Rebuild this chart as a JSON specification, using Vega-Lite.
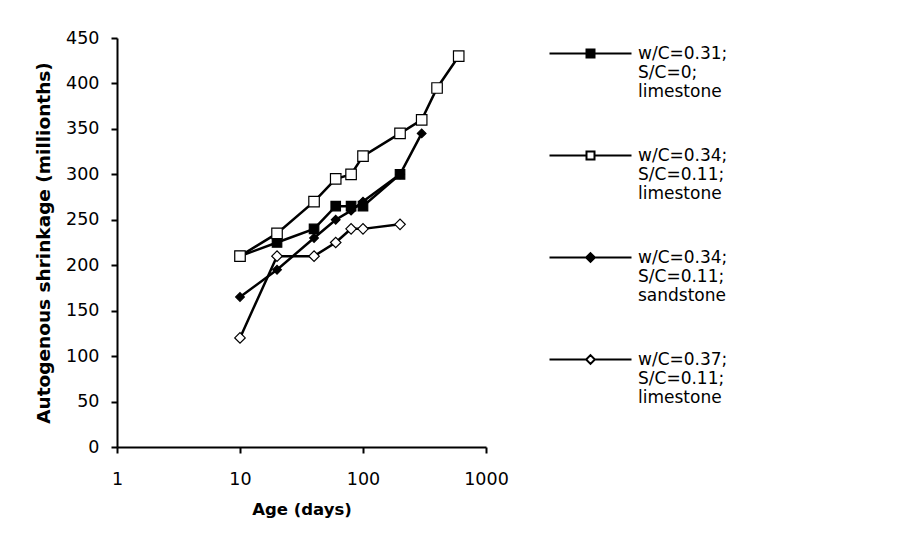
{
  "$schema": "https://vega.github.io/schema/vega-lite/v6.json",
  "width": 369,
  "height": 409,
  "autosize": {"type": "none"},
  "padding": {"left": 117, "top": 38, "right": 420, "bottom": 110},
  "background": "white",
  "config": {"view": {"stroke": null}, "font": "DejaVu Sans"},
  "data": {
    "values": [
      {"series": "w/C=0.31;|S/C=0;|limestone", "age": 10, "shrinkage": 210},
      {"series": "w/C=0.31;|S/C=0;|limestone", "age": 20, "shrinkage": 225},
      {"series": "w/C=0.31;|S/C=0;|limestone", "age": 40, "shrinkage": 240},
      {"series": "w/C=0.31;|S/C=0;|limestone", "age": 60, "shrinkage": 265},
      {"series": "w/C=0.31;|S/C=0;|limestone", "age": 80, "shrinkage": 265},
      {"series": "w/C=0.31;|S/C=0;|limestone", "age": 100, "shrinkage": 265},
      {"series": "w/C=0.31;|S/C=0;|limestone", "age": 200, "shrinkage": 300},
      {"series": "w/C=0.34;|S/C=0.11;|limestone", "age": 10, "shrinkage": 210},
      {"series": "w/C=0.34;|S/C=0.11;|limestone", "age": 20, "shrinkage": 235},
      {"series": "w/C=0.34;|S/C=0.11;|limestone", "age": 40, "shrinkage": 270},
      {"series": "w/C=0.34;|S/C=0.11;|limestone", "age": 60, "shrinkage": 295},
      {"series": "w/C=0.34;|S/C=0.11;|limestone", "age": 80, "shrinkage": 300},
      {"series": "w/C=0.34;|S/C=0.11;|limestone", "age": 100, "shrinkage": 320},
      {"series": "w/C=0.34;|S/C=0.11;|limestone", "age": 200, "shrinkage": 345},
      {"series": "w/C=0.34;|S/C=0.11;|limestone", "age": 300, "shrinkage": 360},
      {"series": "w/C=0.34;|S/C=0.11;|limestone", "age": 400, "shrinkage": 395},
      {"series": "w/C=0.34;|S/C=0.11;|limestone", "age": 600, "shrinkage": 430},
      {"series": "w/C=0.34;|S/C=0.11;|sandstone", "age": 10, "shrinkage": 165},
      {"series": "w/C=0.34;|S/C=0.11;|sandstone", "age": 20, "shrinkage": 195},
      {"series": "w/C=0.34;|S/C=0.11;|sandstone", "age": 40, "shrinkage": 230},
      {"series": "w/C=0.34;|S/C=0.11;|sandstone", "age": 60, "shrinkage": 250},
      {"series": "w/C=0.34;|S/C=0.11;|sandstone", "age": 80, "shrinkage": 260},
      {"series": "w/C=0.34;|S/C=0.11;|sandstone", "age": 100, "shrinkage": 270},
      {"series": "w/C=0.34;|S/C=0.11;|sandstone", "age": 200, "shrinkage": 300},
      {"series": "w/C=0.34;|S/C=0.11;|sandstone", "age": 300, "shrinkage": 345},
      {"series": "w/C=0.37;|S/C=0.11;|limestone", "age": 10, "shrinkage": 120},
      {"series": "w/C=0.37;|S/C=0.11;|limestone", "age": 20, "shrinkage": 210},
      {"series": "w/C=0.37;|S/C=0.11;|limestone", "age": 40, "shrinkage": 210},
      {"series": "w/C=0.37;|S/C=0.11;|limestone", "age": 60, "shrinkage": 225},
      {"series": "w/C=0.37;|S/C=0.11;|limestone", "age": 80, "shrinkage": 240},
      {"series": "w/C=0.37;|S/C=0.11;|limestone", "age": 100, "shrinkage": 240},
      {"series": "w/C=0.37;|S/C=0.11;|limestone", "age": 200, "shrinkage": 245}
    ]
  },
  "encoding": {
    "x": {
      "field": "age",
      "type": "quantitative",
      "scale": {"type": "log", "domain": [1, 1000]},
      "axis": {
        "values": [1, 10, 100, 1000],
        "format": "d",
        "title": "Age (days)",
        "grid": false,
        "domainColor": "black",
        "domainWidth": 2,
        "tickColor": "black",
        "tickWidth": 2,
        "tickSize": 6,
        "labelFont": "DejaVu Sans",
        "labelFontSize": 17.5,
        "labelColor": "black",
        "labelPadding": 17,
        "labelFlush": false,
        "titleFont": "DejaVu Sans",
        "titleFontWeight": "bold",
        "titleFontSize": 16.5,
        "titleColor": "black",
        "titlePadding": 14
      }
    },
    "y": {
      "field": "shrinkage",
      "type": "quantitative",
      "scale": {"domain": [0, 450]},
      "axis": {
        "values": [0, 50, 100, 150, 200, 250, 300, 350, 400, 450],
        "title": "Autogenous shrinkage (millionths)",
        "grid": false,
        "domainColor": "black",
        "domainWidth": 2,
        "tickColor": "black",
        "tickWidth": 2,
        "tickSize": 6,
        "labelFont": "DejaVu Sans",
        "labelFontSize": 17.5,
        "labelColor": "black",
        "labelPadding": 12,
        "labelFlush": false,
        "titleFont": "DejaVu Sans",
        "titleFontWeight": "bold",
        "titleFontSize": 18.5,
        "titleColor": "black",
        "titlePadding": 12
      }
    }
  },
  "layer": [
    {
      "mark": {"type": "line", "color": "black", "strokeWidth": 2.5},
      "encoding": {"detail": {"field": "series", "type": "nominal"}}
    },
    {
      "mark": {"type": "point", "filled": true, "stroke": "black", "strokeWidth": 1.2, "opacity": 1},
      "encoding": {
        "shape": {
          "field": "series",
          "type": "nominal",
          "scale": {
            "domain": ["w/C=0.31;|S/C=0;|limestone", "w/C=0.34;|S/C=0.11;|limestone", "w/C=0.34;|S/C=0.11;|sandstone", "w/C=0.37;|S/C=0.11;|limestone"],
            "range": ["square", "square", "diamond", "diamond"]
          },
          "legend": null
        },
        "fill": {
          "field": "series",
          "type": "nominal",
          "scale": {
            "domain": ["w/C=0.31;|S/C=0;|limestone", "w/C=0.34;|S/C=0.11;|limestone", "w/C=0.34;|S/C=0.11;|sandstone", "w/C=0.37;|S/C=0.11;|limestone"],
            "range": ["black", "white", "black", "white"]
          },
          "legend": null
        },
        "size": {
          "field": "series",
          "type": "nominal",
          "scale": {
            "type": "ordinal",
            "domain": ["w/C=0.31;|S/C=0;|limestone", "w/C=0.34;|S/C=0.11;|limestone", "w/C=0.34;|S/C=0.11;|sandstone", "w/C=0.37;|S/C=0.11;|limestone"],
            "range": [90, 110, 75, 110]
          },
          "legend": null
        }
      }
    },
    {
      "transform": [{"filter": "datum.age > 100000"}],
      "mark": {"type": "point", "filled": true, "strokeWidth": 2, "opacity": 1, "size": 64},
      "encoding": {
        "shape": {
          "field": "series",
          "type": "nominal",
          "scale": {
            "domain": ["w/C=0.31;|S/C=0;|limestone", "w/C=0.34;|S/C=0.11;|limestone", "w/C=0.34;|S/C=0.11;|sandstone", "w/C=0.37;|S/C=0.11;|limestone"],
            "range": [
              "M-10.25,0H10.25M-1,-1H1V1H-1Z",
              "M-10.25,0H-1M1,0H10.25M-1,-1H1V1H-1Z",
              "M-10.25,0H10.25M0,-1.1L1.1,0L0,1.1L-1.1,0Z",
              "M-10.25,0H-1.1M1.1,0H10.25M0,-1.1L1.1,0L0,1.1L-1.1,0Z"
            ]
          },
          "legend": {
            "orient": "right",
            "offset": 89,
            "padding": 7,
            "title": null,
            "labelExpr": "split(datum.label, '|')",
            "labelFont": "DejaVu Sans",
            "labelFontSize": 17,
            "labelColor": "black",
            "labelOffset": 39,
            "labelLimit": 0,
            "rowPadding": 46,
            "symbolSize": 64,
            "symbolStrokeWidth": 2
          }
        },
        "fill": {
          "field": "series",
          "type": "nominal",
          "scale": {
            "domain": ["w/C=0.31;|S/C=0;|limestone", "w/C=0.34;|S/C=0.11;|limestone", "w/C=0.34;|S/C=0.11;|sandstone", "w/C=0.37;|S/C=0.11;|limestone"],
            "range": ["black", "white", "black", "white"]
          },
          "legend": {
            "orient": "right",
            "offset": 89,
            "padding": 7,
            "title": null,
            "labelExpr": "split(datum.label, '|')",
            "labelFont": "DejaVu Sans",
            "labelFontSize": 17,
            "labelColor": "black",
            "labelOffset": 39,
            "labelLimit": 0,
            "rowPadding": 46,
            "symbolSize": 64,
            "symbolStrokeWidth": 2
          }
        },
        "stroke": {
          "field": "series",
          "type": "nominal",
          "scale": {
            "domain": ["w/C=0.31;|S/C=0;|limestone", "w/C=0.34;|S/C=0.11;|limestone", "w/C=0.34;|S/C=0.11;|sandstone", "w/C=0.37;|S/C=0.11;|limestone"],
            "range": ["black", "black", "black", "black"]
          },
          "legend": {
            "orient": "right",
            "offset": 89,
            "padding": 7,
            "title": null,
            "labelExpr": "split(datum.label, '|')",
            "labelFont": "DejaVu Sans",
            "labelFontSize": 17,
            "labelColor": "black",
            "labelOffset": 39,
            "labelLimit": 0,
            "rowPadding": 46,
            "symbolSize": 64,
            "symbolStrokeWidth": 2
          }
        }
      }
    }
  ],
  "resolve": {"scale": {"shape": "independent", "fill": "independent", "size": "independent", "stroke": "independent"}}
}
